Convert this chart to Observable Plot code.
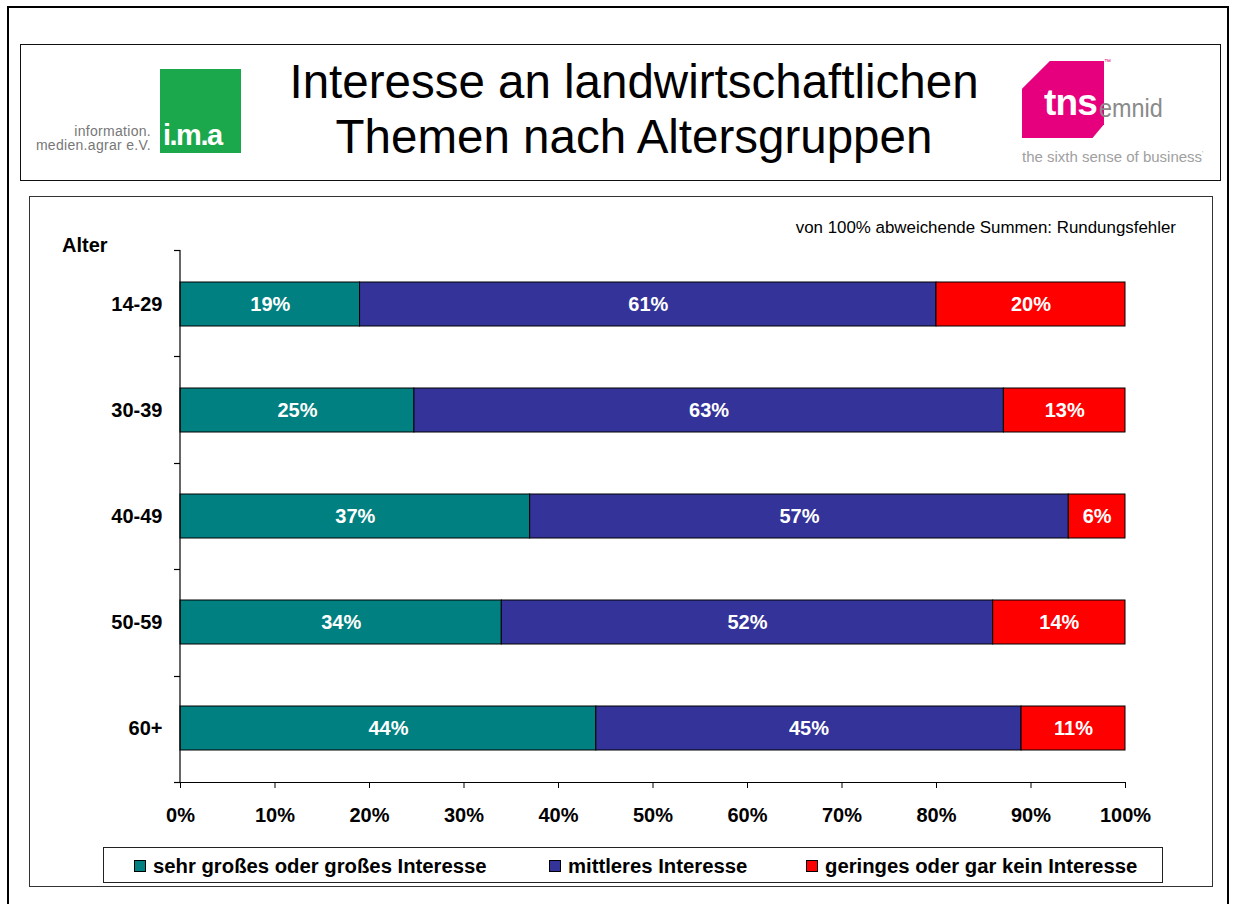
<!DOCTYPE html>
<html>
<head>
<meta charset="utf-8">
<script src="https://cdn.jsdelivr.net/npm/d3@7"></script>
<script src="https://cdn.jsdelivr.net/npm/@observablehq/plot@0.6"></script>
<style>
  html, body { margin: 0; padding: 0; background: #fff; }
  body { width: 1233px; height: 904px; position: relative; overflow: hidden; font-family: "Liberation Sans", Arial, sans-serif; }
  .abs { position: absolute; }
  .box { position: absolute; box-sizing: border-box; }
  .bold { font-weight: bold; }
  #plot { position: absolute; left: 0; top: 0; z-index: 2; }
  .lg { position: absolute; top: 856px; font-size: 20.3px; line-height: 20px; font-weight: bold; color: #000; white-space: nowrap; z-index: 3; }
  .sq { position: absolute; top: 860px; width: 12px; height: 12px; box-sizing: border-box; border: 1px solid #000; z-index: 3; }
</style>
</head>
<body>
<!-- frames -->
<div class="box" style="left:7px;top:6px;width:1222px;height:920px;border:2px solid #000;"></div>
<div class="box" style="left:20px;top:44px;width:1201px;height:137px;border:1.5px solid #111;"></div>
<div class="box" style="left:29px;top:196px;width:1184px;height:691px;border:1.5px solid #333;"></div>
<div class="box" style="left:103px;top:847px;width:1060px;height:36px;border:1.5px solid #222;z-index:3;background:#fff;"></div>

<!-- ima logo -->
<div class="abs" style="left:0;top:124px;width:151px;text-align:right;font-size:14px;line-height:14px;color:#777;letter-spacing:0.3px;">information.</div>
<div class="abs" style="left:0;top:138px;width:151px;text-align:right;font-size:14px;line-height:14px;color:#777;letter-spacing:0.3px;">medien.agrar e.V.</div>
<div class="abs" style="left:160px;top:69px;width:81px;height:84px;background:#1BA84C;"></div>
<div class="abs" style="left:163px;top:120px;font-size:29px;line-height:30px;font-weight:bold;color:#fff;letter-spacing:-1.5px;">i.m.a</div>

<!-- title -->
<div class="abs" id="title" style="left:234px;top:54px;width:800px;text-align:center;font-size:47.5px;line-height:55px;color:#000;"></div>

<!-- tns logo -->
<div class="abs" style="left:1022px;top:61px;width:82px;height:77px;background:#E6007E;clip-path:polygon(34% 0,100% 0,100% 82%,86% 100%,0 100%,0 36%);"></div>
<div class="abs" style="left:1104px;top:58px;font-size:7px;color:#E6007E;">™</div>
<div class="abs" style="left:1044px;top:84px;font-size:37px;line-height:38px;font-weight:bold;color:#fff;letter-spacing:-0.8px;">tns</div>
<div class="abs" style="left:1099px;top:95px;font-size:26px;line-height:26px;color:#8a8a8a;transform:scaleX(0.9);transform-origin:left;">emnid</div>
<div class="abs" style="left:1022px;top:146px;font-size:15px;line-height:16px;color:#a0a0a0;white-space:nowrap;">the sixth sense of business<sup style="font-size:7px">'</sup></div>

<!-- note and axis title -->
<div class="abs" id="note" style="left:700px;top:219px;width:476px;text-align:right;font-size:16.9px;line-height:18px;color:#000;z-index:3;"></div>
<div class="abs bold" id="ytitle" style="left:62px;top:235px;font-size:20px;line-height:20px;color:#000;z-index:3;"></div>

<div id="plot"></div>
<div id="legend"></div>

<script>
// ---- data ----
const titleLines = ["Interesse an landwirtschaftlichen", "Themen nach Altersgruppen"];
const noteText = "von 100% abweichende Summen: Rundungsfehler";
const yTitle = "Alter";
const ages = ["14-29", "30-39", "40-49", "50-59", "60+"];
const categories = ["sehr großes oder großes Interesse", "mittleres Interesse", "geringes oder gar kein Interesse"];
const highInterest = [19, 25, 37, 34, 44];
const midInterest = [61, 63, 57, 52, 45];
const lowInterest = [20, 13, 6, 14, 11];
const colors = ["#008080", "#333399", "#FF0000"];
const xTickValues = [0, 0.1, 0.2, 0.3, 0.4, 0.5, 0.6, 0.7, 0.8, 0.9, 1];
const xTickLabels = ["0%", "10%", "20%", "30%", "40%", "50%", "60%", "70%", "80%", "90%", "100%"];
const legendSquareLeft = [134, 549, 806];

// ---- table ----
const series = [highInterest, midInterest, lowInterest];
const data = [];
ages.forEach((age, i) => {
  categories.forEach((cat, j) => {
    data.push({ age, cat, value: series[j][i] });
  });
});

document.getElementById("title").innerHTML = titleLines.join("<br>");
document.getElementById("note").textContent = noteText;
document.getElementById("ytitle").textContent = yTitle;

// custom axis lines + y boundary ticks from Plot's scales/dimensions
function axisFrame(index, scales, values, dims) {
  const x = scales.x;
  const top = dims.marginTop;
  const bottom = dims.height - dims.marginBottom;
  const x0 = x(0), x1 = x(1);
  const n = ages.length;
  const g = d3.create("svg:g").attr("stroke", "#000").attr("stroke-width", 1.2).attr("fill", "none");
  for (let i = 0; i <= n; i++) {
    const yy = Math.round(top + i * (bottom - top) / n) + 0.5;
    g.append("line").attr("x1", x0 - 6).attr("x2", x0).attr("y1", yy).attr("y2", yy);
  }
  const yb = Math.round(bottom) + 0.5;
  g.append("line").attr("x1", x0 - 6).attr("x2", x1).attr("y1", yb).attr("y2", yb);
  g.append("line").attr("x1", x0).attr("x2", x0).attr("y1", top).attr("y2", bottom);
  return g.node();
}

const chart = Plot.plot({
  width: 1233,
  height: 904,
  marginLeft: 180,
  marginRight: 108,
  marginTop: 250,
  marginBottom: 122,
  style: { background: "transparent", fontFamily: "'Liberation Sans', Arial, sans-serif", fontWeight: "bold", overflow: "visible", maxWidth: "none" },
  x: { domain: [0, 1], label: null },
  y: { domain: ages, paddingInner: 0.586, paddingOuter: 0.293, label: null },
  color: { domain: categories, range: colors },
  marks: [
    Plot.barX(data, Plot.stackX({ x: "value", y: "age", fill: "cat", offset: "normalize", order: categories, stroke: "#000", strokeWidth: 1 })),
    Plot.text(data, Plot.stackX({ x: "value", y: "age", z: "cat", offset: "normalize", order: categories, text: d => d.value + "%", fill: "#fff", fontSize: 20, fontWeight: "bold" })),
    Plot.axisX({ ticks: xTickValues, tickFormat: (d) => xTickLabels[xTickValues.indexOf(d)], tickSize: 6, tickPadding: 19, fontSize: 20, fontWeight: "bold", stroke: "#000", color: "#000", label: null }),
    Plot.axisY({ tickSize: 0, tickPadding: 18, fontSize: 20, fontWeight: "bold", color: "#000", label: null }),
    axisFrame
  ]
});
document.getElementById("plot").appendChild(chart);

// ---- legend ----
const legend = document.getElementById("legend");
categories.forEach((cat, j) => {
  const sq = document.createElement("div");
  sq.className = "sq";
  sq.style.left = legendSquareLeft[j] + "px";
  sq.style.background = colors[j];
  legend.appendChild(sq);
  const t = document.createElement("div");
  t.className = "lg";
  t.style.left = (legendSquareLeft[j] + 19) + "px";
  t.textContent = cat;
  legend.appendChild(t);
});
</script>
</body>
</html>
